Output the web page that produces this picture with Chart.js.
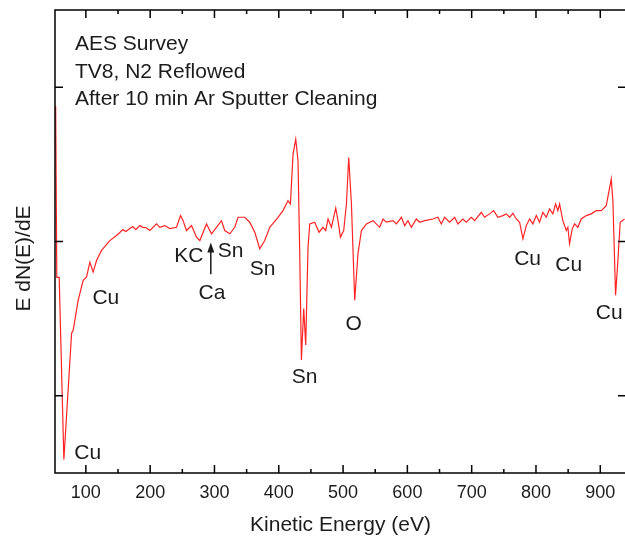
<!DOCTYPE html>
<html>
<head>
<meta charset="utf-8">
<title>AES Survey</title>
<script src="https://cdn.jsdelivr.net/npm/chart.js@4.4.1/dist/chart.umd.min.js"></script>
<style>
    body { margin: 0; overflow: hidden; background: #fff; }
    #wrap { position: absolute; left: 0; top: 0; width: 640px; height: 541px; }
</style>
</head>
<body>
<div id="wrap"><canvas id="aesChart"></canvas></div>
<script>
// kinetic energy (eV) and derivative signal E dN(E)/dE (arbitrary units)
const energy = [
    53, 54.8, 58.5, 65.8, 77.8, 80.3, 88.0, 95.8, 101.1, 106.2, 111.3, 116.6, 124.4, 137.3,
    147.7, 152.8, 157.5, 162.2, 168.4, 173.0, 177.7, 183.9, 188.6, 193.2, 199.5, 209.9, 215.0,
    222.8, 230.5, 241.0, 247.2, 251.2, 256.5, 264.3, 272.1, 277.2, 287.6, 295.4, 303.1, 310.9,
    316.0, 323.8, 331.6, 336.7, 347.1, 354.9, 362.7, 370.4, 378.2, 386.0, 398.9, 406.6, 414.4,
    418.1, 422.2, 426.4, 429.9, 432.6, 435.2, 438.8, 441.9, 445.5, 448.1, 455.9, 462.6, 468.8,
    473.0, 476.6, 481.9, 488.6, 492.1, 495.9, 501.0, 505.2, 508.8, 513.0, 518.1, 523.2, 528.5,
    536.3, 546.5, 556.9, 562.1, 567.3, 577.6, 582.9, 590.7, 595.8, 600.9, 606.2, 614.0, 619.1,
    626.9, 639.8, 647.5, 652.8, 657.9, 665.7, 673.5, 678.6, 686.4, 691.7, 699.4, 704.6, 715.0,
    720.1, 727.9, 734.1, 740.8, 748.6, 753.9, 759.0, 764.1, 769.4, 774.5, 779.7, 784.9, 790.1,
    795.2, 800.5, 805.6, 810.7, 816.0, 821.1, 826.3, 830.5, 834.1, 836.7, 841.8, 847.1, 849.6,
    852.2, 856.4, 860.0, 865.1, 870.4, 878.2, 885.9, 893.7, 901.5, 909.3, 917.1, 919.6, 923.8,
    927.4, 931.0, 937.7
];
const signal = [
    0.877, -0.232, -0.232, -1.413, -0.594, -0.574, -0.381, -0.252, -0.230, -0.134, -0.198, -0.123, -0.058, 0.006,
    0.039, 0.058, 0.077, 0.065, 0.084, 0.097, 0.077, 0.103, 0.092, 0.090, 0.071, 0.114, 0.092,
    0.103, 0.084, 0.092, 0.168, 0.135, 0.071, 0.103, 0.028, 0.006, 0.114, 0.050, 0.092, 0.135,
    0.071, 0.050, 0.092, 0.157, 0.157, 0.125, 0.060, -0.047, 0.006, 0.092, 0.157, 0.200, 0.265,
    0.243, 0.566, 0.663, 0.523, -0.077, -0.768, -0.434, -0.671, -0.037, 0.114, 0.125, 0.060, 0.092,
    0.071, 0.146, 0.092, 0.217, 0.135, 0.028, 0.071, 0.243, 0.544, 0.243, -0.381, -0.079, 0.071,
    0.114, 0.135, 0.092, 0.146, 0.125, 0.135, 0.114, 0.157, 0.103, 0.135, 0.092, 0.146, 0.125,
    0.135, 0.146, 0.157, 0.114, 0.157, 0.125, 0.157, 0.114, 0.146, 0.125, 0.157, 0.135, 0.189,
    0.157, 0.179, 0.200, 0.157, 0.168, 0.179, 0.157, 0.183, 0.146, 0.125, 0.017, 0.103, 0.146,
    0.114, 0.168, 0.125, 0.189, 0.157, 0.211, 0.179, 0.243, 0.200, 0.243, 0.135, 0.071, 0.092,
    -0.015, 0.082, 0.114, 0.092, 0.146, 0.168, 0.179, 0.200, 0.200, 0.232, 0.405, 0.265, -0.348,
    -0.123, 0.125, 0.146
];

// peak assignments, placed in data coordinates
const peakNames = ['Cu', 'Cu', 'KC', 'Sn', 'Ca', 'Sn', 'Sn', 'O', 'Cu', 'Cu', 'Cu'];
const peakE     = [103, 131, 260, 325, 296, 375, 440, 516.5, 787, 851, 914];
const peakY     = [-1.374, -0.368, -0.097, -0.065, -0.335, -0.181, -0.877, -0.535, -0.116, -0.155, -0.465];

// Ca arrow: energy, tail and tip signal level
const arrowE = 294.3;
const arrowFrom = -0.213;
const arrowTo = -0.006;

const notes = ['AES Survey', 'TV8, N2 Reflowed', 'After 10 min Ar Sputter Cleaning'];

const xTicksStep = 100;
const yTickValues = [-1, 0, 1];

const FONT = "'Liberation Sans', Arial, sans-serif";
const INK = '#1c1c1c';

// box frame, inward ticks, text notes and peak labels
const framePlugin = {
    id: 'framePlugin',
    afterDraw(chart) {
        const {ctx, chartArea: a, scales: {x, y}} = chart;
        ctx.save();

        ctx.strokeStyle = '#000';
        ctx.lineWidth = 1.5;
        ctx.strokeRect(a.left, a.top, a.right - a.left, a.bottom - a.top);

        ctx.beginPath();
        x.ticks.forEach(t => {
            const px = x.getPixelForValue(t.value);
            ctx.moveTo(px, a.bottom); ctx.lineTo(px, a.bottom - 8);
            ctx.moveTo(px, a.top); ctx.lineTo(px, a.top + 8);
            const mv = t.value + xTicksStep / 2;
            if (mv < x.max) {
                const mx = x.getPixelForValue(mv);
                ctx.moveTo(mx, a.bottom); ctx.lineTo(mx, a.bottom - 4);
                ctx.moveTo(mx, a.top); ctx.lineTo(mx, a.top + 4);
            }
        });
        y.ticks.forEach(t => {
            const py = y.getPixelForValue(t.value);
            ctx.moveTo(a.left, py); ctx.lineTo(a.left + 8, py);
            ctx.moveTo(a.right, py); ctx.lineTo(a.right - 8, py);
        });
        ctx.stroke();

        ctx.fillStyle = INK;
        ctx.font = '21px ' + FONT;

        // y axis title
        ctx.save();
        ctx.translate(24, (a.top + a.bottom) / 2 + 17);
        ctx.rotate(-Math.PI / 2);
        ctx.textAlign = 'center';
        ctx.textBaseline = 'middle';
        ctx.fillText('E dN(E)/dE', 0, 0);
        ctx.restore();

        // sample notes, upper left
        ctx.textAlign = 'left';
        ctx.textBaseline = 'alphabetic';
        notes.forEach((s, i) => ctx.fillText(s, a.left + 20, a.top + 40 + i * 27.5));

        // peak labels
        ctx.textAlign = 'center';
        ctx.textBaseline = 'middle';
        peakNames.forEach((s, i) => {
            ctx.fillText(s, x.getPixelForValue(peakE[i]), y.getPixelForValue(peakY[i]));
        });

        // arrow pointing at the Ca position
        const ax = x.getPixelForValue(arrowE);
        const y0 = y.getPixelForValue(arrowFrom);
        const y1 = y.getPixelForValue(arrowTo);
        ctx.strokeStyle = INK;
        ctx.lineWidth = 1.5;
        ctx.beginPath();
        ctx.moveTo(ax, y0); ctx.lineTo(ax, y1 + 8);
        ctx.stroke();
        ctx.beginPath();
        ctx.moveTo(ax, y1); ctx.lineTo(ax - 3.5, y1 + 10); ctx.lineTo(ax + 3.5, y1 + 10);
        ctx.closePath();
        ctx.fill();

        ctx.restore();
    }
};

const points = energy.map((e, i) => ({x: e, y: signal[i]}));

new Chart(document.getElementById('aesChart'), {
    type: 'line',
    data: {
        datasets: [{
            data: points,
            borderColor: 'rgb(255, 35, 35)',
            borderWidth: 1.2,
            pointRadius: 0,
            tension: 0,
            fill: false
        }]
    },
    options: {
        responsive: true,
        maintainAspectRatio: false,
        animation: false,
        layout: { padding: { top: 10, right: 14, left: 0, bottom: 0 } },
        plugins: { legend: { display: false }, tooltip: { enabled: false } },
        scales: {
            x: {
                type: 'linear',
                min: 52,
                max: 940,
                grid: { display: false, drawTicks: false },
                border: { display: false },
                ticks: {
                    stepSize: xTicksStep,
                    includeBounds: false,
                    padding: 9,
                    color: INK,
                    font: { family: FONT, size: 18 }
                },
                title: {
                    display: true,
                    text: 'Kinetic Energy (eV)',
                    color: INK,
                    font: { family: FONT, size: 21 },
                    padding: { top: 0, bottom: 3 }
                },
                afterFit(scale) { scale.height = 68; }
            },
            y: {
                min: -1.5,
                max: 1.5,
                grid: { display: false, drawTicks: false },
                border: { display: false },
                ticks: { display: false },
                afterBuildTicks(scale) { scale.ticks = yTickValues.map(v => ({value: v})); },
                afterFit(scale) { scale.width = 55; }
            }
        }
    },
    plugins: [framePlugin]
});
</script>
</body>
</html>
